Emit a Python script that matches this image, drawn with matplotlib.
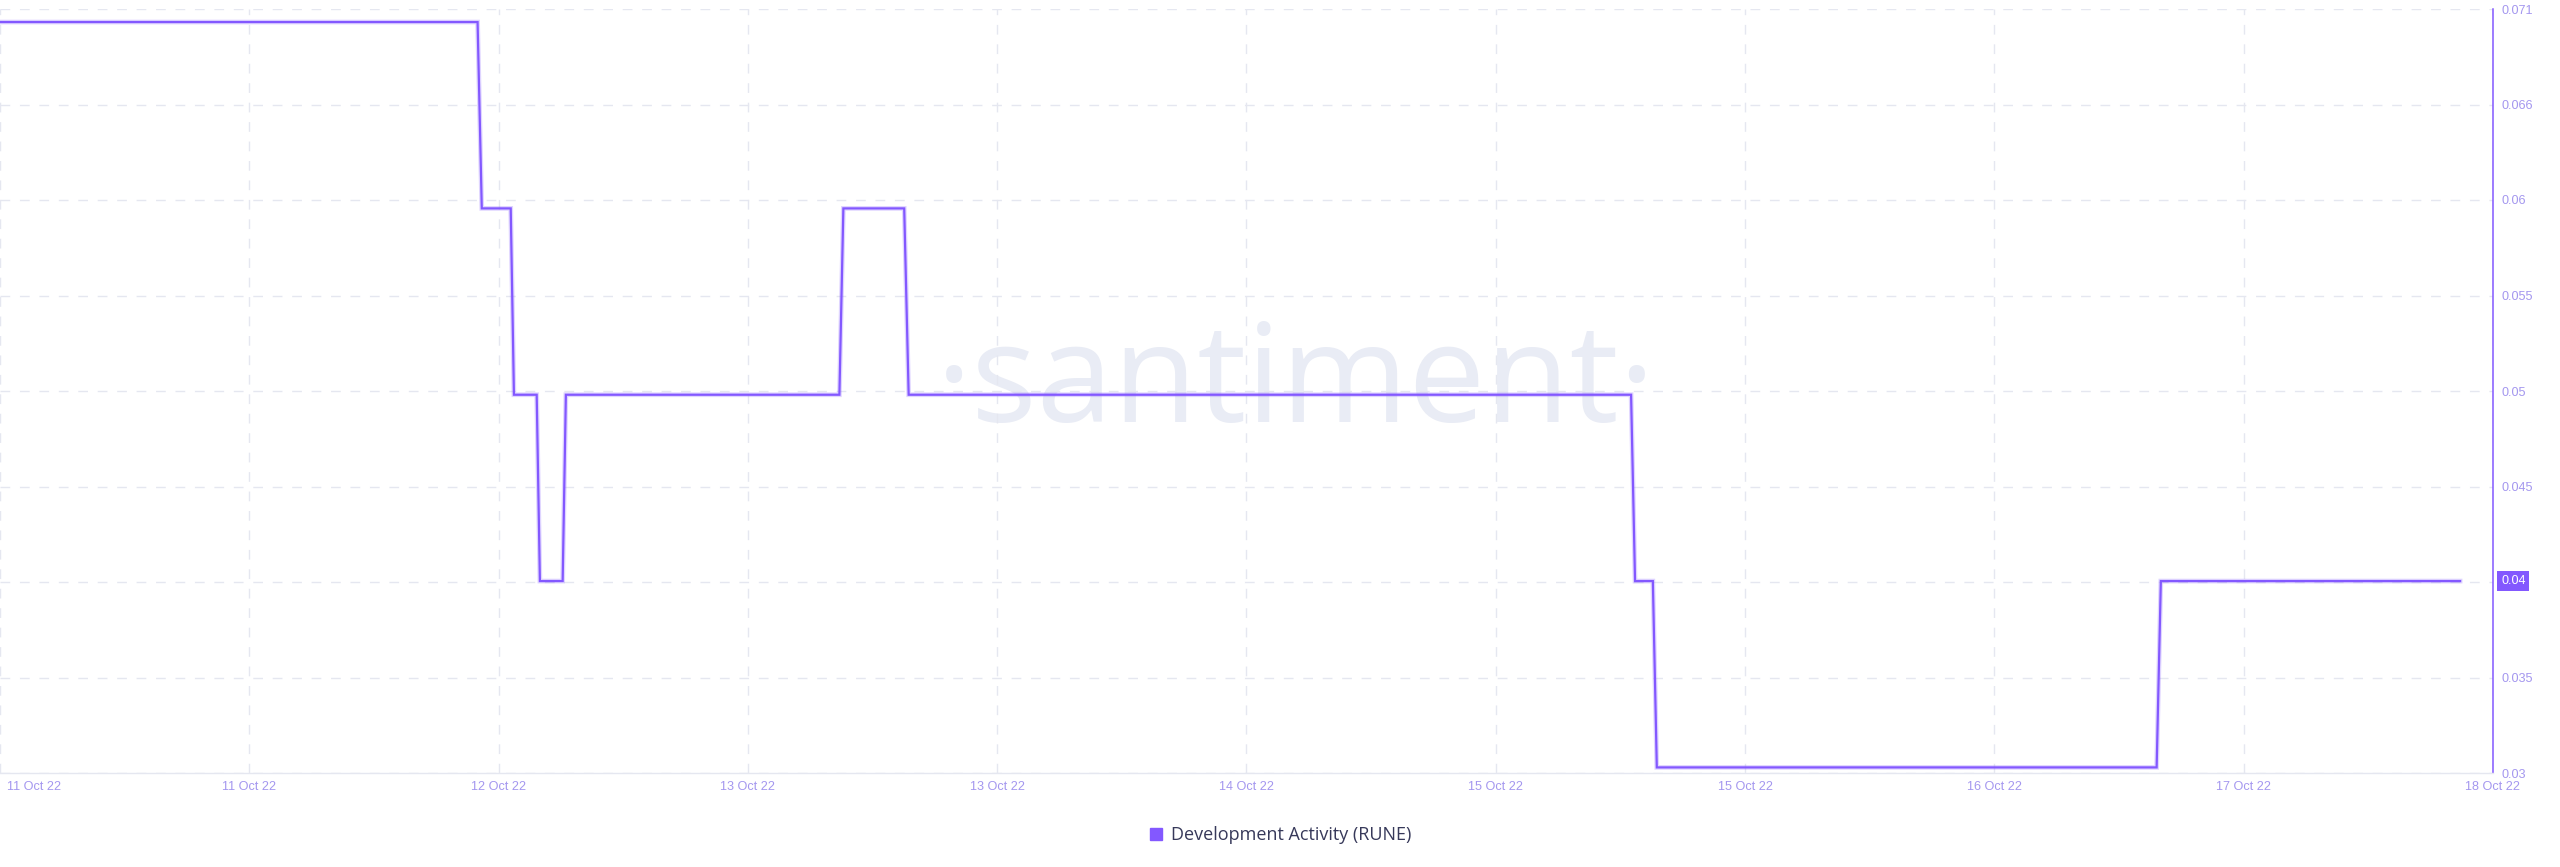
import matplotlib
matplotlib.use("Agg")
import matplotlib.pyplot as plt
import numpy as np
import pandas as pd
from matplotlib.lines import Line2D
from matplotlib.transforms import ScaledTranslation

# step points (RUNE dev activity)
times = [
    "2022-10-11 00:00", "2022-10-12 08:11",
    "2022-10-12 08:28", "2022-10-12 10:25",
    "2022-10-12 10:38", "2022-10-12 12:10",
    "2022-10-12 12:23", "2022-10-12 13:55",
    "2022-10-12 14:08", "2022-10-13 08:34",
    "2022-10-13 08:50", "2022-10-13 12:56",
    "2022-10-13 13:14", "2022-10-15 13:55",
    "2022-10-15 14:11", "2022-10-15 15:23",
    "2022-10-15 15:39", "2022-10-17 01:20",
    "2022-10-17 01:37", "2022-10-17 21:47",
]
values = [
    0.07, 0.07,
    0.06, 0.06,
    0.05, 0.05,
    0.04, 0.04,
    0.05, 0.05,
    0.06, 0.06,
    0.05, 0.05,
    0.04, 0.04,
    0.03, 0.03,
    0.04, 0.04,
]
x_start, x_end = "2022-10-11 00:00", "2022-10-18 00:00"
xtick_labels = ["11 Oct 22", "11 Oct 22", "12 Oct 22", "13 Oct 22", "13 Oct 22",
                "14 Oct 22", "15 Oct 22", "15 Oct 22", "16 Oct 22", "17 Oct 22",
                "18 Oct 22"]
y_min, y_max = 0.0297, 0.0707
ytick_labels = ["0.03", "0.035", "0.04", "0.045", "0.05", "0.055", "0.06", "0.066", "0.071"]
last_label = "0.04"
series_name = "Development Activity (RUNE)"

purple = "#8358FF"
tick_color = "#A497EF"
grid_color = "#E5E7F0"

plt.rcParams["lines.scale_dashes"] = False
plt.rcParams["font.family"] = ["Liberation Sans", "DejaVu Sans"]

W, H = 2560, 867
fig = plt.figure(figsize=(W / 100, H / 100), dpi=100)
ax = fig.add_axes([0 / W, (H - 773) / H, 2493 / W, 764 / H])

t = pd.to_datetime(times)
x0, x1 = pd.Timestamp(x_start), pd.Timestamp(x_end)

# watermark
ax.text(0.520, 0.4594, "\u00b7santiment\u00b7", transform=ax.transAxes,
        ha="center", va="baseline", fontsize=99, color="#E9ECF5",
        family=["Open Sans", "DejaVu Sans"], zorder=0)

ax.plot(t, values, color=purple, lw=3.4, alpha=0.25, solid_joinstyle="miter", zorder=3)
ax.plot(t, values, color=purple, lw=1.6, solid_joinstyle="miter", zorder=4)

ax.set_xlim(x0, x1)
ax.set_ylim(y_min, y_max)

xticks = pd.date_range(x0, x1, periods=len(xtick_labels))
ax.set_xticks(xticks)
ax.set_xticklabels(xtick_labels)
yticks = np.linspace(y_min, y_max, len(ytick_labels))
ax.set_yticks(yticks)
ax.set_yticklabels(ytick_labels)

ax.yaxis.tick_right()
ax.tick_params(axis="both", length=0, labelsize=9.1, labelcolor=tick_color)
ax.tick_params(axis="x", pad=6)
ax.tick_params(axis="y", pad=6)

ax.grid(True, color=grid_color, lw=1.0, linestyle=(0, (7, 7)), zorder=1)
ax.set_axisbelow(True)
for s in ["left", "top"]:
    ax.spines[s].set_visible(False)
ax.spines["right"].set_color(purple)
ax.spines["right"].set_linewidth(1.1)
ax.spines["bottom"].set_color(grid_color)
ax.spines["bottom"].set_linewidth(1.0)

# first date label sits inside the plot, left aligned
xl = ax.get_xticklabels()
xl[0].set_horizontalalignment("left")
xl[0].set_transform(xl[0].get_transform() + ScaledTranslation(7 / 100, 0, fig.dpi_scale_trans))

# last value badge on the right axis
badge = ax.text(1.0, values[-1], last_label, ha="left", va="center", fontsize=9.1,
                color="white", zorder=10, clip_on=False,
                bbox=dict(boxstyle="square,pad=0.3", fc=purple, ec="none"))
badge.set_transform(ax.get_yaxis_transform() + ScaledTranslation(8 / 100, 0, fig.dpi_scale_trans))

handle = Line2D([], [], marker="s", ls="", color=purple, markersize=8)
fig.legend([handle], [series_name], loc="center", bbox_to_anchor=(0.5, 1 - 835 / H),
           frameon=False, handlelength=0.8, handletextpad=0.4,
           prop={"family": "Open Sans", "size": 13}, labelcolor="#37395A")

fig.savefig("out.png", dpi=100, facecolor="white")
